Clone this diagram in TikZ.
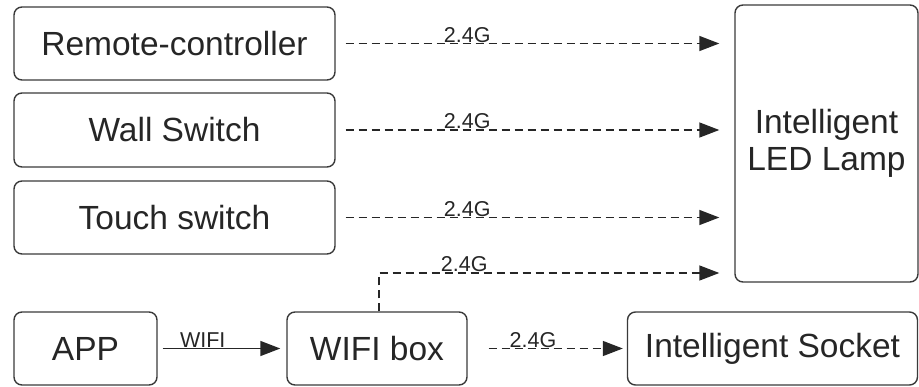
\documentclass[tikz,border=0pt]{standalone}
\usepackage{fontspec}
\setmainfont{Liberation Sans}
\usetikzlibrary{arrows.meta,calc}
\definecolor{ink}{HTML}{262626}
\definecolor{edge}{HTML}{3A3A3A}
\begin{document}
\begin{tikzpicture}[x=1pt,y=-1pt,
  box/.style={draw=edge,line width=1.4pt,rounded corners=8pt,text=ink,
    font=\fontsize{33.5}{37}\selectfont,inner sep=0pt,align=center},
  link/.style={draw=ink,line width=1.5pt,dash pattern=on 8pt off 5pt,
    -{Triangle[length=20pt,width=15pt]}},
  solidlink/.style={draw=ink,line width=1.5pt,-{Triangle[length=20pt,width=15pt]}},
  lbl/.style={font=\fontsize{21.5}{23}\selectfont,text=ink,inner sep=0.5pt,anchor=south}]
\useasboundingbox (0,0) rectangle (919,386);
\node[box,minimum width=321pt,minimum height=73pt] (remote) at (174.5,43.5) {Remote-controller};
\node[box,minimum width=321pt,minimum height=74pt] (wall) at (174.5,130) {Wall Switch};
\node[box,minimum width=321pt,minimum height=73pt] (touch) at (174.5,217.5) {Touch switch};
\node[box,minimum width=143pt,minimum height=73pt] (app) at (85.5,348.5) {APP};
\node[box,minimum width=180pt,minimum height=73pt] (wifi) at (377,348.5) {WIFI box};
\node[box,minimum width=290pt,minimum height=73pt] (socket) at (772.5,348.5) {Intelligent Socket};
\node[box,minimum width=183pt,minimum height=277pt] (lamp) at (826.5,143.5) {Intelligent\\LED Lamp};
\coordinate (t4) at (lamp.west |- 0,273);
\draw[link,shorten <=10pt,shorten >=15pt] (remote.east) -- (remote.east -| lamp.west)
  node[lbl,pos=0.33] {2.4G};
\draw[link,shorten <=10pt,shorten >=15pt] (wall.east) -- (wall.east -| lamp.west)
  node[lbl,pos=0.33] {2.4G};
\draw[link,shorten <=10pt,shorten >=15pt] (touch.east) -- (touch.east -| lamp.west)
  node[lbl,pos=0.33] {2.4G};
\draw[link,shorten >=15pt] ([xshift=2pt]wifi.north) |- (t4)
  node[lbl,pos=0.62] {2.4G};
\draw[solidlink,shorten <=5pt,shorten >=6pt] (app.east) -- (wifi.west)
  node[lbl,pos=0.35] {WIFI};
\draw[link,shorten <=21pt,shorten >=4pt] (wifi.east) -- (socket.west)
  node[lbl,pos=0.41] {2.4G};
\end{tikzpicture}
\end{document}
